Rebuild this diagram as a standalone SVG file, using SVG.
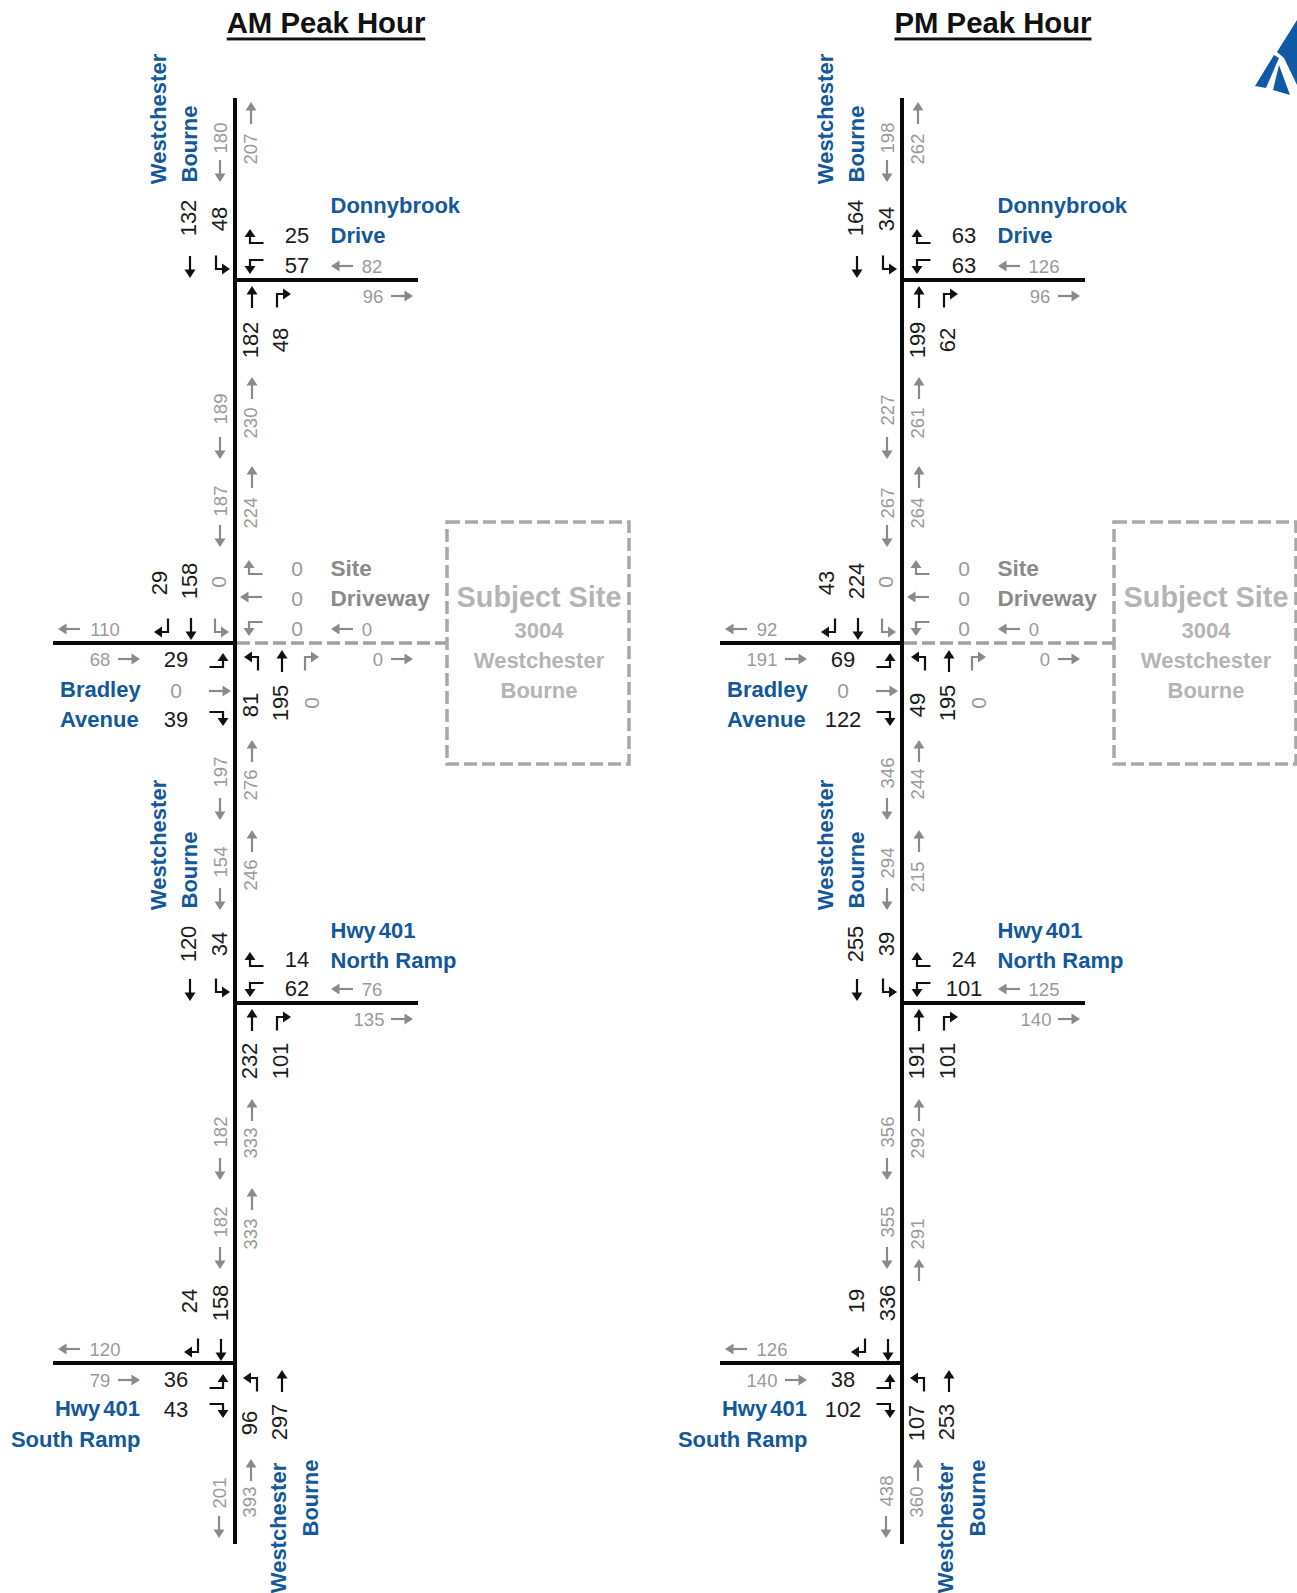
<svg xmlns="http://www.w3.org/2000/svg" xmlns:xlink="http://www.w3.org/1999/xlink" width="1297" height="1593" viewBox="0 0 1297 1593">
<style>
text{font-family:"Liberation Sans",Arial,sans-serif;text-anchor:middle;dominant-baseline:central}
.n{font-size:22px;fill:#1c1c1c}
.v{font-size:18.5px;fill:#9a9a9a}
.o{font-size:21px;fill:#9a9a9a}
.b{font-size:22px;font-weight:bold;fill:#13589a}
.w{word-spacing:-3px}
.g{font-size:22.6px;font-weight:bold;fill:#8a8a8a}
.s{font-size:22px;font-weight:bold;fill:#b4b4b4}
.ss{font-size:28.8px}
.h{font-size:29.3px;font-weight:bold;fill:#111;text-decoration:underline}
.l{text-anchor:start}
.r{text-anchor:end}
.k{color:#111}
.y{color:#8a8a8a}
.road{stroke:#0a0a0a;stroke-width:4;fill:none}
.dash{stroke:#a0a0a0;stroke-width:3.5;stroke-dasharray:13 5;fill:none}
.box{fill:none;stroke:#a8a8a8;stroke-width:3.5;stroke-dasharray:13 5}
</style>
<defs>
<g id="t"><path d="M0 11V-4" fill="none" stroke="currentColor" stroke-width="2.2"/><path d="M-5.500-2.500L0-11L5.500-2.500Z" fill="currentColor"/></g>
<g id="A"><path d="M-6 9.500V-4H1" fill="none" stroke="currentColor" stroke-width="2.2"/><path d="M0-9.500L8-4L0 1.500Z" fill="currentColor"/></g>
<g id="B"><path d="M6 9.500V-4H-1" fill="none" stroke="currentColor" stroke-width="2.2"/><path d="M0-9.500L-8-4L0 1.500Z" fill="currentColor"/></g>
</defs>
<g id="connectors">
<path class="road" d="M235 98V1544M235 280H418M53 643H235M235 1003H418M53 1363H235"/>
<path class="dash" d="M237 643H447"/>
<path class="road" d="M902 98V1544M902 280H1085M720 643H902M902 1003H1085M720 1363H902"/>
<path class="dash" d="M904 643H1114"/>
</g>
<g id="am-title"><text class="h" x="326" y="22">AM Peak Hour</text></g>
<g id="pm-title"><text class="h" x="993" y="22">PM Peak Hour</text></g>
<g id="logo" fill="#0f5aa5"><path d="M1255 86L1274 55L1279 58L1266 88Z"/><path d="M1273 90L1279 65L1290 95Z"/><path d="M1277 52L1297 20V85L1284 58Z"/></g>
<g id="am">
<g id="am-donnybrook">
<text class="b" x="158" y="119" transform="rotate(-90 158 119)">Westchester</text>
<text class="b" x="189" y="144" transform="rotate(-90 189 144)">Bourne</text>
<text class="v" x="220" y="138" transform="rotate(-90 220 138)">180</text>
<use href="#t" class="y" transform="translate(220 171) rotate(180)"/>
<text class="v" x="250" y="149" transform="rotate(-90 250 149)">207</text>
<use href="#t" class="y" transform="translate(251 113)"/>
<text class="n" x="188" y="218" transform="rotate(-90 188 218)">132</text>
<text class="n" x="219" y="219" transform="rotate(-90 219 219)">48</text>
<use href="#t" class="k" transform="translate(190 267) rotate(180)"/>
<use href="#B" class="k" transform="translate(222 265) rotate(180)"/>
<use href="#A" class="k" transform="translate(254 237) rotate(-90)"/>
<use href="#B" class="k" transform="translate(254 266) rotate(-90)"/>
<use href="#t" class="k" transform="translate(252 297)"/>
<use href="#A" class="k" transform="translate(283 298)"/>
<text class="n" x="297" y="235.500">25</text>
<text class="n" x="297" y="265">57</text>
<text class="b l" x="330.500" y="205">Donnybrook</text>
<text class="b l" x="330.500" y="235">Drive</text>
<use href="#t" class="y" transform="translate(342 266) rotate(-90)"/>
<text class="v" x="372" y="266">82</text>
<text class="v" x="373" y="296">96</text>
<use href="#t" class="y" transform="translate(402 296) rotate(90)"/>
<text class="n" x="250" y="340" transform="rotate(-90 250 340)">182</text>
<text class="n" x="280" y="340" transform="rotate(-90 280 340)">48</text>
</g>
<g id="am-links-1">
<text class="v" x="220" y="409" transform="rotate(-90 220 409)">189</text>
<use href="#t" class="y" transform="translate(220 448) rotate(180)"/>
<text class="v" x="250" y="423" transform="rotate(-90 250 423)">230</text>
<use href="#t" class="y" transform="translate(252 388)"/>
<text class="v" x="220" y="501" transform="rotate(-90 220 501)">187</text>
<use href="#t" class="y" transform="translate(220 536) rotate(180)"/>
<text class="v" x="250" y="513" transform="rotate(-90 250 513)">224</text>
<use href="#t" class="y" transform="translate(252 477)"/>
</g>
<g id="am-bradley">
<text class="n" x="159" y="583" transform="rotate(-90 159 583)">29</text>
<text class="n" x="189" y="581" transform="rotate(-90 189 581)">158</text>
<text class="o" x="218" y="582" transform="rotate(-90 218 582)">0</text>
<use href="#t" class="y" transform="translate(69 629) rotate(-90)"/>
<text class="v" x="105" y="629">110</text>
<use href="#A" class="k" transform="translate(162 628) rotate(180)"/>
<use href="#t" class="k" transform="translate(191 629) rotate(180)"/>
<use href="#B" class="y" transform="translate(221 628) rotate(180)"/>
<use href="#A" class="y" transform="translate(253 568) rotate(-90)"/>
<use href="#t" class="y" transform="translate(251 597) rotate(-90)"/>
<use href="#B" class="y" transform="translate(253 628) rotate(-90)"/>
<text class="o" x="297" y="568">0</text>
<text class="o" x="297" y="598">0</text>
<text class="o" x="297" y="628">0</text>
<text class="g l" x="330.500" y="568">Site</text>
<text class="g l" x="330.500" y="598">Driveway</text>
<use href="#t" class="y" transform="translate(342 629) rotate(-90)"/>
<text class="v" x="367" y="629">0</text>
<text class="v" x="100" y="659">68</text>
<use href="#t" class="y" transform="translate(129 659) rotate(90)"/>
<text class="n" x="176" y="659">29</text>
<use href="#B" class="k" transform="translate(219 661) rotate(90)"/>
<use href="#B" class="k" transform="translate(252 661)"/>
<use href="#t" class="k" transform="translate(282 661)"/>
<use href="#A" class="y" transform="translate(311 661)"/>
<text class="v" x="378" y="659">0</text>
<use href="#t" class="y" transform="translate(402 659) rotate(90)"/>
<text class="b l" x="60" y="689">Bradley</text>
<text class="b l" x="60" y="719">Avenue</text>
<text class="o" x="176" y="690">0</text>
<text class="n" x="176" y="719">39</text>
<use href="#t" class="y" transform="translate(220 691) rotate(90)"/>
<use href="#A" class="k" transform="translate(219 718) rotate(90)"/>
<text class="n" x="250" y="705" transform="rotate(-90 250 705)">81</text>
<text class="n" x="280" y="703" transform="rotate(-90 280 703)">195</text>
<text class="o" x="311" y="703" transform="rotate(-90 311 703)">0</text>
</g>
<g id="am-site">
<rect class="box" x="447" y="522" width="182" height="242"/>
<text class="s ss" x="539" y="597">Subject Site</text>
<text class="s" x="539" y="630">3004</text>
<text class="s" x="539" y="660">Westchester</text>
<text class="s" x="539" y="690">Bourne</text>
</g>
<g id="am-links-2">
<text class="v" x="220" y="772" transform="rotate(-90 220 772)">197</text>
<use href="#t" class="y" transform="translate(220 809) rotate(180)"/>
<text class="v" x="250" y="785" transform="rotate(-90 250 785)">276</text>
<use href="#t" class="y" transform="translate(252 751)"/>
<text class="v" x="220" y="862" transform="rotate(-90 220 862)">154</text>
<use href="#t" class="y" transform="translate(220 899) rotate(180)"/>
<text class="v" x="250" y="875" transform="rotate(-90 250 875)">246</text>
<use href="#t" class="y" transform="translate(252 841)"/>
</g>
<g id="am-north-ramp">
<text class="b" x="158" y="845" transform="rotate(-90 158 845)">Westchester</text>
<text class="b" x="189" y="870" transform="rotate(-90 189 870)">Bourne</text>
<text class="n" x="188" y="944" transform="rotate(-90 188 944)">120</text>
<text class="n" x="219" y="944" transform="rotate(-90 219 944)">34</text>
<use href="#t" class="k" transform="translate(190 990) rotate(180)"/>
<use href="#B" class="k" transform="translate(222 988) rotate(180)"/>
<use href="#A" class="k" transform="translate(254 960) rotate(-90)"/>
<use href="#B" class="k" transform="translate(254 989) rotate(-90)"/>
<use href="#t" class="k" transform="translate(252 1020)"/>
<use href="#A" class="k" transform="translate(283 1021)"/>
<text class="n" x="297" y="959">14</text>
<text class="n" x="297" y="988">62</text>
<text class="b l w" x="330.500" y="930">Hwy 401</text>
<text class="b l" x="330.500" y="960">North Ramp</text>
<use href="#t" class="y" transform="translate(342 989) rotate(-90)"/>
<text class="v" x="372" y="989">76</text>
<text class="v" x="369" y="1019">135</text>
<use href="#t" class="y" transform="translate(402 1019) rotate(90)"/>
<text class="n" x="249" y="1061" transform="rotate(-90 249 1061)">232</text>
<text class="n" x="280" y="1061" transform="rotate(-90 280 1061)">101</text>
</g>
<g id="am-links-3">
<text class="v" x="220" y="1132" transform="rotate(-90 220 1132)">182</text>
<use href="#t" class="y" transform="translate(220 1169) rotate(180)"/>
<text class="v" x="250" y="1143" transform="rotate(-90 250 1143)">333</text>
<use href="#t" class="y" transform="translate(252 1110)"/>
<text class="v" x="220" y="1222" transform="rotate(-90 220 1222)">182</text>
<use href="#t" class="y" transform="translate(220 1258) rotate(180)"/>
<text class="v" x="250" y="1234" transform="rotate(-90 250 1234)">333</text>
<use href="#t" class="y" transform="translate(252 1199)"/>
</g>
<g id="am-south-ramp">
<text class="n" x="189" y="1301" transform="rotate(-90 189 1301)">24</text>
<text class="n" x="220" y="1303" transform="rotate(-90 220 1303)">158</text>
<use href="#t" class="y" transform="translate(69 1349) rotate(-90)"/>
<text class="v" x="105" y="1349">120</text>
<use href="#A" class="k" transform="translate(192 1348) rotate(180)"/>
<use href="#t" class="k" transform="translate(221 1350) rotate(180)"/>
<text class="v" x="100" y="1380">79</text>
<use href="#t" class="y" transform="translate(129 1380) rotate(90)"/>
<text class="n" x="176" y="1379">36</text>
<use href="#B" class="k" transform="translate(219 1382) rotate(90)"/>
<use href="#B" class="k" transform="translate(251 1382)"/>
<use href="#t" class="k" transform="translate(282 1381)"/>
<text class="b r w" x="140" y="1408">Hwy 401</text>
<text class="b r" x="140.500" y="1439">South Ramp</text>
<text class="n" x="176" y="1409">43</text>
<use href="#A" class="k" transform="translate(219 1410) rotate(90)"/>
<text class="n" x="249" y="1423" transform="rotate(-90 249 1423)">96</text>
<text class="n" x="279" y="1422" transform="rotate(-90 279 1422)">297</text>
<text class="v" x="249" y="1502" transform="rotate(-90 249 1502)">393</text>
<use href="#t" class="y" transform="translate(251 1470)"/>
<text class="v" x="219" y="1493" transform="rotate(-90 219 1493)">201</text>
<use href="#t" class="y" transform="translate(219 1527) rotate(180)"/>
<text class="b" x="278" y="1528" transform="rotate(-90 278 1528)">Westchester</text>
<text class="b" x="310" y="1498" transform="rotate(-90 310 1498)">Bourne</text>
</g>
</g>
<g id="pm" transform="translate(667 0)">
<g id="pm-donnybrook">
<text class="b" x="158" y="119" transform="rotate(-90 158 119)">Westchester</text>
<text class="b" x="189" y="144" transform="rotate(-90 189 144)">Bourne</text>
<text class="v" x="220" y="138" transform="rotate(-90 220 138)">198</text>
<use href="#t" class="y" transform="translate(220 171) rotate(180)"/>
<text class="v" x="250" y="149" transform="rotate(-90 250 149)">262</text>
<use href="#t" class="y" transform="translate(251 113)"/>
<text class="n" x="188" y="218" transform="rotate(-90 188 218)">164</text>
<text class="n" x="219" y="219" transform="rotate(-90 219 219)">34</text>
<use href="#t" class="k" transform="translate(190 267) rotate(180)"/>
<use href="#B" class="k" transform="translate(222 265) rotate(180)"/>
<use href="#A" class="k" transform="translate(254 237) rotate(-90)"/>
<use href="#B" class="k" transform="translate(254 266) rotate(-90)"/>
<use href="#t" class="k" transform="translate(252 297)"/>
<use href="#A" class="k" transform="translate(283 298)"/>
<text class="n" x="297" y="235.500">63</text>
<text class="n" x="297" y="265">63</text>
<text class="b l" x="330.500" y="205">Donnybrook</text>
<text class="b l" x="330.500" y="235">Drive</text>
<use href="#t" class="y" transform="translate(342 266) rotate(-90)"/>
<text class="v" x="377" y="266">126</text>
<text class="v" x="373" y="296">96</text>
<use href="#t" class="y" transform="translate(402 296) rotate(90)"/>
<text class="n" x="250" y="340" transform="rotate(-90 250 340)">199</text>
<text class="n" x="280" y="340" transform="rotate(-90 280 340)">62</text>
</g>
<g id="pm-links-1">
<text class="v" x="220" y="410" transform="rotate(-90 220 410)">227</text>
<use href="#t" class="y" transform="translate(220 448) rotate(180)"/>
<text class="v" x="250" y="423" transform="rotate(-90 250 423)">261</text>
<use href="#t" class="y" transform="translate(252 388)"/>
<text class="v" x="220" y="503" transform="rotate(-90 220 503)">267</text>
<use href="#t" class="y" transform="translate(220 536) rotate(180)"/>
<text class="v" x="250" y="513" transform="rotate(-90 250 513)">264</text>
<use href="#t" class="y" transform="translate(252 477)"/>
</g>
<g id="pm-bradley">
<text class="n" x="159" y="583" transform="rotate(-90 159 583)">43</text>
<text class="n" x="189" y="581" transform="rotate(-90 189 581)">224</text>
<text class="o" x="218" y="582" transform="rotate(-90 218 582)">0</text>
<use href="#t" class="y" transform="translate(69 629) rotate(-90)"/>
<text class="v" x="100" y="629">92</text>
<use href="#A" class="k" transform="translate(162 628) rotate(180)"/>
<use href="#t" class="k" transform="translate(191 629) rotate(180)"/>
<use href="#B" class="y" transform="translate(221 628) rotate(180)"/>
<use href="#A" class="y" transform="translate(253 568) rotate(-90)"/>
<use href="#t" class="y" transform="translate(251 597) rotate(-90)"/>
<use href="#B" class="y" transform="translate(253 628) rotate(-90)"/>
<text class="o" x="297" y="568">0</text>
<text class="o" x="297" y="598">0</text>
<text class="o" x="297" y="628">0</text>
<text class="g l" x="330.500" y="568">Site</text>
<text class="g l" x="330.500" y="598">Driveway</text>
<use href="#t" class="y" transform="translate(342 629) rotate(-90)"/>
<text class="v" x="367" y="629">0</text>
<text class="v" x="95" y="659">191</text>
<use href="#t" class="y" transform="translate(129 659) rotate(90)"/>
<text class="n" x="176" y="659">69</text>
<use href="#B" class="k" transform="translate(219 661) rotate(90)"/>
<use href="#B" class="k" transform="translate(252 661)"/>
<use href="#t" class="k" transform="translate(282 661)"/>
<use href="#A" class="y" transform="translate(311 661)"/>
<text class="v" x="378" y="659">0</text>
<use href="#t" class="y" transform="translate(402 659) rotate(90)"/>
<text class="b l" x="60" y="689">Bradley</text>
<text class="b l" x="60" y="719">Avenue</text>
<text class="o" x="176" y="690">0</text>
<text class="n" x="176" y="719">122</text>
<use href="#t" class="y" transform="translate(220 691) rotate(90)"/>
<use href="#A" class="k" transform="translate(219 718) rotate(90)"/>
<text class="n" x="250" y="705" transform="rotate(-90 250 705)">49</text>
<text class="n" x="280" y="703" transform="rotate(-90 280 703)">195</text>
<text class="o" x="311" y="703" transform="rotate(-90 311 703)">0</text>
</g>
<g id="pm-site">
<rect class="box" x="447" y="522" width="182" height="242"/>
<text class="s ss" x="539" y="597">Subject Site</text>
<text class="s" x="539" y="630">3004</text>
<text class="s" x="539" y="660">Westchester</text>
<text class="s" x="539" y="690">Bourne</text>
</g>
<g id="pm-links-2">
<text class="v" x="220" y="773" transform="rotate(-90 220 773)">346</text>
<use href="#t" class="y" transform="translate(220 809) rotate(180)"/>
<text class="v" x="250" y="784" transform="rotate(-90 250 784)">244</text>
<use href="#t" class="y" transform="translate(252 751)"/>
<text class="v" x="220" y="863" transform="rotate(-90 220 863)">294</text>
<use href="#t" class="y" transform="translate(220 899) rotate(180)"/>
<text class="v" x="250" y="877" transform="rotate(-90 250 877)">215</text>
<use href="#t" class="y" transform="translate(252 841)"/>
</g>
<g id="pm-north-ramp">
<text class="b" x="158" y="845" transform="rotate(-90 158 845)">Westchester</text>
<text class="b" x="189" y="870" transform="rotate(-90 189 870)">Bourne</text>
<text class="n" x="188" y="944" transform="rotate(-90 188 944)">255</text>
<text class="n" x="219" y="944" transform="rotate(-90 219 944)">39</text>
<use href="#t" class="k" transform="translate(190 990) rotate(180)"/>
<use href="#B" class="k" transform="translate(222 988) rotate(180)"/>
<use href="#A" class="k" transform="translate(254 960) rotate(-90)"/>
<use href="#B" class="k" transform="translate(254 989) rotate(-90)"/>
<use href="#t" class="k" transform="translate(252 1020)"/>
<use href="#A" class="k" transform="translate(283 1021)"/>
<text class="n" x="297" y="959">24</text>
<text class="n" x="297" y="988">101</text>
<text class="b l w" x="330.500" y="930">Hwy 401</text>
<text class="b l" x="330.500" y="960">North Ramp</text>
<use href="#t" class="y" transform="translate(342 989) rotate(-90)"/>
<text class="v" x="377" y="989">125</text>
<text class="v" x="369" y="1019">140</text>
<use href="#t" class="y" transform="translate(402 1019) rotate(90)"/>
<text class="n" x="249" y="1061" transform="rotate(-90 249 1061)">191</text>
<text class="n" x="280" y="1061" transform="rotate(-90 280 1061)">101</text>
</g>
<g id="pm-links-3">
<text class="v" x="220" y="1132" transform="rotate(-90 220 1132)">356</text>
<use href="#t" class="y" transform="translate(220 1169) rotate(180)"/>
<text class="v" x="250" y="1143" transform="rotate(-90 250 1143)">292</text>
<use href="#t" class="y" transform="translate(252 1110)"/>
<text class="v" x="220" y="1222" transform="rotate(-90 220 1222)">355</text>
<use href="#t" class="y" transform="translate(220 1258) rotate(180)"/>
<text class="v" x="250" y="1234" transform="rotate(-90 250 1234)">291</text>
<use href="#t" class="y" transform="translate(252 1270)"/>
</g>
<g id="pm-south-ramp">
<text class="n" x="189" y="1301" transform="rotate(-90 189 1301)">19</text>
<text class="n" x="220" y="1303" transform="rotate(-90 220 1303)">336</text>
<use href="#t" class="y" transform="translate(69 1349) rotate(-90)"/>
<text class="v" x="105" y="1349">126</text>
<use href="#A" class="k" transform="translate(192 1348) rotate(180)"/>
<use href="#t" class="k" transform="translate(221 1350) rotate(180)"/>
<text class="v" x="95" y="1380">140</text>
<use href="#t" class="y" transform="translate(129 1380) rotate(90)"/>
<text class="n" x="176" y="1379">38</text>
<use href="#B" class="k" transform="translate(219 1382) rotate(90)"/>
<use href="#B" class="k" transform="translate(251 1382)"/>
<use href="#t" class="k" transform="translate(282 1381)"/>
<text class="b r w" x="140" y="1408">Hwy 401</text>
<text class="b r" x="140.500" y="1439">South Ramp</text>
<text class="n" x="176" y="1409">102</text>
<use href="#A" class="k" transform="translate(219 1410) rotate(90)"/>
<text class="n" x="249" y="1423" transform="rotate(-90 249 1423)">107</text>
<text class="n" x="279" y="1422" transform="rotate(-90 279 1422)">253</text>
<text class="v" x="249" y="1502" transform="rotate(-90 249 1502)">360</text>
<use href="#t" class="y" transform="translate(251 1470)"/>
<text class="v" x="219" y="1491" transform="rotate(-90 219 1491)">438</text>
<use href="#t" class="y" transform="translate(219 1527) rotate(180)"/>
<text class="b" x="278" y="1528" transform="rotate(-90 278 1528)">Westchester</text>
<text class="b" x="310" y="1498" transform="rotate(-90 310 1498)">Bourne</text>
</g>
</g>
</svg>
